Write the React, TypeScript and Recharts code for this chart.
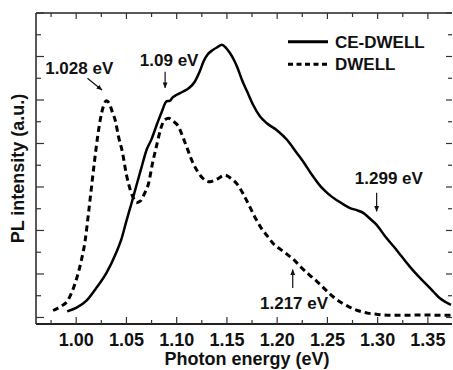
import React from 'react';
import { LineChart, Line, XAxis, YAxis, Legend, ReferenceLine, ReferenceDot } from 'recharts';

// CE-DWELL (solid)
const ceEnergy = [
  0.991, 1.0, 1.01, 1.02, 1.03, 1.04, 1.045, 1.05, 1.055, 1.06, 1.065, 1.07, 1.075, 1.08, 1.085, 1.09,
  1.093, 1.096, 1.1, 1.106, 1.112, 1.118, 1.123, 1.127, 1.131, 1.136, 1.141, 1.145, 1.149, 1.153, 1.157,
  1.16, 1.165, 1.17, 1.176, 1.183, 1.19, 1.2, 1.21, 1.219, 1.226, 1.234, 1.243, 1.25, 1.259, 1.266, 1.272,
  1.28, 1.286, 1.292, 1.299, 1.307, 1.316, 1.324, 1.332, 1.34, 1.349, 1.356, 1.362, 1.368, 1.373,
];
const ceIntensity = [
  0.14, 0.22, 0.38, 0.68, 1.02, 1.5, 1.8, 2.22, 2.62, 3.04, 3.45, 3.85, 4.1, 4.42, 4.72, 4.97,
  4.98, 5.06, 5.12, 5.19, 5.27, 5.42, 5.66, 5.9, 6.05, 6.15, 6.22, 6.27, 6.2, 6.08, 5.92,
  5.77, 5.46, 5.2, 4.89, 4.62, 4.46, 4.3, 4.08, 3.8, 3.58, 3.3, 3.02, 2.86, 2.7, 2.6, 2.52,
  2.46, 2.4, 2.28, 2.13, 1.88, 1.63, 1.4, 1.17, 0.96, 0.75, 0.58, 0.44, 0.35, 0.29,
];

// DWELL (dashed)
const dwEnergy = [
  0.977, 0.985, 0.991, 0.996, 1.001, 1.005, 1.009, 1.012, 1.015, 1.018, 1.021, 1.024, 1.027, 1.03, 1.033,
  1.036, 1.039, 1.042, 1.046, 1.05, 1.054, 1.057, 1.06, 1.064, 1.068, 1.072, 1.076, 1.08, 1.084, 1.088,
  1.092, 1.096, 1.102, 1.106, 1.11, 1.116, 1.121, 1.126, 1.133, 1.14, 1.148, 1.154, 1.16, 1.166, 1.172,
  1.178, 1.184, 1.19, 1.196, 1.203, 1.21, 1.217, 1.224, 1.232, 1.24, 1.248, 1.256, 1.264, 1.272, 1.28,
  1.29, 1.3, 1.315, 1.33, 1.345, 1.36, 1.373,
];
const dwIntensity = [
  0.16, 0.26, 0.37, 0.6, 0.94, 1.3, 1.78, 2.35, 2.95, 3.55, 4.1, 4.55, 4.85, 4.98, 4.92,
  4.72, 4.52, 4.17, 3.8, 3.28, 2.92, 2.74, 2.64, 2.68, 2.85, 3.08, 3.55, 3.95, 4.33, 4.54,
  4.58, 4.52, 4.38, 4.16, 3.92, 3.56, 3.35, 3.2, 3.12, 3.18, 3.27, 3.2, 3.07, 2.85, 2.58,
  2.3, 2.06, 1.88, 1.7, 1.57, 1.45, 1.32, 1.15, 0.98, 0.82, 0.64, 0.47, 0.34, 0.24, 0.16,
  0.1, 0.07, 0.05, 0.05, 0.06, 0.05, 0.05,
];

const xTicks = [0.975, 1.0, 1.025, 1.05, 1.075, 1.1, 1.125, 1.15, 1.175, 1.2, 1.225, 1.25, 1.275, 1.3, 1.325, 1.35];
const xLabels = ['1.00', '1.05', '1.10', '1.15', '1.20', '1.25', '1.30', '1.35'];
const yTicks = [0, 0.5, 1, 1.5, 2, 2.5, 3, 3.5, 4, 4.5, 5, 5.5, 6, 6.5, 7];

const peakLabels = [
  { text: '1.028 eV', x: 1.003, y: 5.74 },
  { text: '1.09 eV', x: 1.0925, y: 5.92 },
  { text: '1.299 eV', x: 1.3112, y: 3.21 },
  { text: '1.217 eV', x: 1.2168, y: 0.34 },
];
const peakArrows = [
  { from: { x: 1.0112, y: 5.5 }, to: { x: 1.0256, y: 5.23 } },
  { from: { x: 1.0885, y: 5.65 }, to: { x: 1.0885, y: 5.28 } },
  { from: { x: 1.299, y: 2.87 }, to: { x: 1.299, y: 2.44 } },
  { from: { x: 1.2155, y: 0.68 }, to: { x: 1.2155, y: 1.1 } },
];

const ceData = ceEnergy.map((x, i) => ({ x, y: ceIntensity[i] }));
const dwData = dwEnergy.map((x, i) => ({ x, y: dwIntensity[i] }));

const font = '"Liberation Sans", Arial, sans-serif';
const tickStroke = '#333';

const labelFor = (v: number) => xLabels.find((l) => Math.abs(parseFloat(l) - v) < 1e-6);

const BottomTick = (props: any) => {
  const { x, y, payload } = props;
  const label = labelFor(payload.value);
  return (
    <g>
      <line x1={x} x2={x} y1={y} y2={y - (label ? 7 : 4)} stroke={tickStroke} strokeWidth={1.2} />
      {label && (
        <text x={x} y={y + 22} textAnchor="middle" fontSize={18} fontWeight="bold" fontFamily={font} fill="#111">
          {label}
        </text>
      )}
    </g>
  );
};

const TopTick = (props: any) => {
  const { x, y, payload } = props;
  const major = !!labelFor(payload.value);
  return <line x1={x} x2={x} y1={y} y2={y + (major ? 6 : 4)} stroke={tickStroke} strokeWidth={1.2} />;
};

const LeftTick = (props: any) => {
  const { x, y, payload } = props;
  const major = Number.isInteger(payload.value);
  return <line x1={x} x2={x + (major ? 8 : 5)} y1={y} y2={y} stroke={tickStroke} strokeWidth={1.2} />;
};

const RightTick = (props: any) => {
  const { x, y, payload } = props;
  const major = Number.isInteger(payload.value);
  return <line x1={x} x2={x - (major ? 6 : 4)} y1={y} y2={y} stroke={tickStroke} strokeWidth={1.2} />;
};

const LegendBox = () => (
  <svg width={160} height={50}>
    <line x1={2} x2={42} y1={13.7} y2={13.7} stroke="#000" strokeWidth={3} />
    <text x={49} y={19.7} fontSize={17} fontWeight="bold" fontFamily={font} fill="#111">CE-DWELL</text>
    <line x1={2} x2={42} y1={36.3} y2={36.3} stroke="#000" strokeWidth={3} strokeDasharray="5 3.5" />
    <text x={49} y={42.3} fontSize={17} fontWeight="bold" fontFamily={font} fill="#111">DWELL</text>
  </svg>
);

export default function App() {
  return (
    <div style={{ position: 'absolute', left: 0, top: 0, background: '#fff' }}>
      <LineChart width={453} height={370} margin={{ top: 0, right: 0, bottom: 0, left: 0 }}>
        <defs>
          <marker id="arrowHead" viewBox="0 0 10 10" refX="9" refY="5" markerWidth="5" markerHeight="5" orient="auto">
            <path d="M0,1 L10,5 L0,9 z" fill="#111" />
          </marker>
        </defs>
        <XAxis
          xAxisId="bottom"
          type="number"
          dataKey="x"
          domain={[0.96, 1.374]}
          allowDataOverflow
          ticks={xTicks}
          interval={0}
          height={46}
          tickSize={0}
          tickMargin={0}
          tickLine={false}
          tick={<BottomTick />}
          axisLine={{ stroke: '#222', strokeWidth: 2 }}
          label={{ value: 'Photon energy (eV)', position: 'insideBottom', offset: 5, dx: 3, fontSize: 18, fontWeight: 'bold', fontFamily: font, fill: '#111' }}
        />
        <XAxis
          xAxisId="top"
          orientation="top"
          type="number"
          dataKey="x"
          domain={[0.96, 1.374]}
          allowDataOverflow
          ticks={xTicks}
          interval={0}
          height={13}
          tickSize={0}
          tickMargin={0}
          tickLine={false}
          tick={<TopTick />}
          axisLine={{ stroke: '#222', strokeWidth: 1.5 }}
        />
        <YAxis
          yAxisId="left"
          type="number"
          domain={[-0.15, 7]}
          allowDataOverflow
          ticks={yTicks}
          interval={0}
          width={36}
          tickSize={0}
          tickMargin={0}
          tickLine={false}
          tick={<LeftTick />}
          axisLine={{ stroke: '#222', strokeWidth: 1.5 }}
          label={{ value: 'PL intensity (a.u.)', angle: -90, position: 'center', dx: 0, fontSize: 18, fontWeight: 'bold', fontFamily: font, fill: '#111' }}
        />
        <YAxis
          yAxisId="right"
          orientation="right"
          type="number"
          domain={[-0.15, 7]}
          allowDataOverflow
          ticks={yTicks}
          interval={0}
          width={1}
          tickSize={0}
          tickMargin={0}
          tickLine={false}
          tick={<RightTick />}
          axisLine={false}
        />
        <Legend
          layout="horizontal"
          verticalAlign="middle"
          align="center"
          wrapperStyle={{ position: 'absolute', left: 286, top: 28, width: 160, height: 50 }}
          content={() => <LegendBox />}
        />
        <Line
          xAxisId="bottom"
          yAxisId="left"
          data={ceData}
          dataKey="y"
          type="monotone"
          stroke="#000"
          strokeWidth={2.5}
          dot={false}
          isAnimationActive={false}
        />
        <Line
          xAxisId="bottom"
          yAxisId="left"
          data={dwData}
          dataKey="y"
          type="monotone"
          stroke="#000"
          strokeWidth={3}
          strokeDasharray="6 4"
          dot={false}
          isAnimationActive={false}
        />
        {peakArrows.map((a, i) => (
          <ReferenceLine
            key={'arrow' + i}
            xAxisId="bottom"
            yAxisId="left"
            segment={[a.from, a.to]}
            stroke="#111"
            strokeWidth={1.2}
            markerEnd="url(#arrowHead)"
          />
        ))}
        {peakLabels.map((p) => (
          <ReferenceDot
            key={p.text}
            xAxisId="bottom"
            yAxisId="left"
            x={p.x}
            y={p.y}
            r={0}
            fill="none"
            stroke="none"
            label={{ value: p.text, position: 'center', fontSize: 17, fontWeight: 'bold', fontFamily: font, fill: '#111' }}
          />
        ))}
      </LineChart>
    </div>
  );
}
